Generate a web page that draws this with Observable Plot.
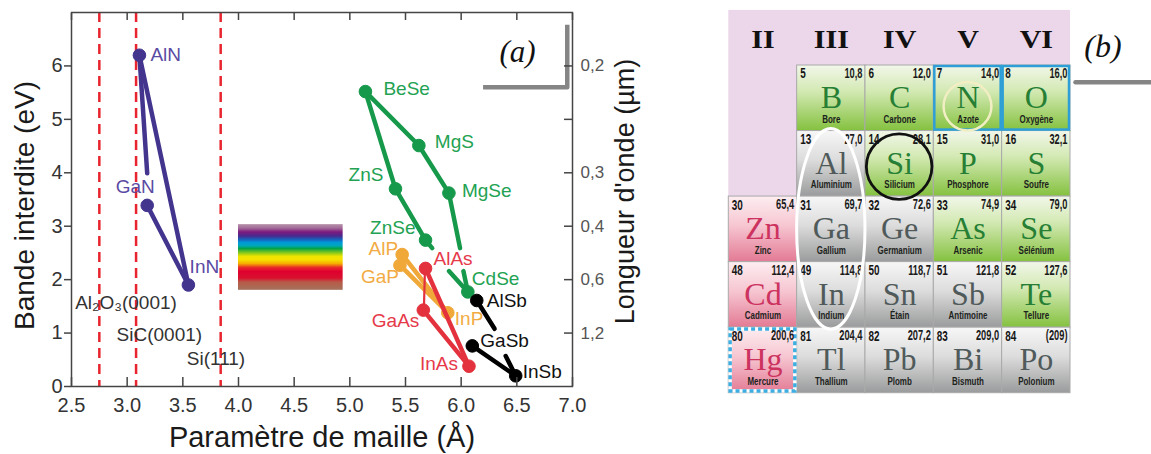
<!DOCTYPE html>
<html>
<head>
<meta charset="utf-8">
<script src="https://cdn.jsdelivr.net/npm/d3@7"></script>
<script src="https://cdn.jsdelivr.net/npm/@observablehq/plot@0.6"></script>
<style>
html,body{margin:0;padding:0;background:#fff;}
#wrap{position:relative;width:1151px;height:454px;overflow:hidden;background:#fff;}
#a{position:absolute;left:0;top:0;}
#b{position:absolute;left:720px;top:0;}
svg{overflow:visible;}
</style>
</head>
<body>
<div id="wrap"><div id="a"></div><div id="b"></div></div>
<script>
const ns = "http://www.w3.org/2000/svg";

// ================= DATA: panel (a) =================
const xTicks = [2.5, 3.0, 3.5, 4.0, 4.5, 5.0, 5.5, 6.0, 6.5, 7.0];
const yTicks = [0, 1, 2, 3, 4, 5, 6];
const wavelengthTickAt = [6, 5, 4, 3, 2, 1];
const wavelengthTickText = ["0,2", "", "0,3", "0,4", "0,6", "1,2"];

const nitrides = [
  {name: "AlN", a: 3.11, eg: 6.20},
  {name: "GaN", a: 3.18, eg: 3.39},
  {name: "InN", a: 3.55, eg: 1.90}
];
const chalcogenides = [
  {name: "BeSe", a: 5.14, eg: 5.52},
  {name: "MgS", a: 5.62, eg: 4.51},
  {name: "MgSe", a: 5.89, eg: 3.62},
  {name: "ZnS", a: 5.41, eg: 3.70},
  {name: "ZnSe", a: 5.68, eg: 2.74},
  {name: "CdSe", a: 6.06, eg: 1.77}
];
const phosphides = [
  {name: "AlP", a: 5.47, eg: 2.47},
  {name: "GaP", a: 5.45, eg: 2.27},
  {name: "InP", a: 5.88, eg: 1.38}
];
const arsenides = [
  {name: "AlAs", a: 5.68, eg: 2.21},
  {name: "GaAs", a: 5.66, eg: 1.43},
  {name: "InAs", a: 6.07, eg: 0.38}
];
const antimonides = [
  {name: "AlSb", a: 6.14, eg: 1.61},
  {name: "GaSb", a: 6.10, eg: 0.76},
  {name: "InSb", a: 6.49, eg: 0.20}
];

const nitrideCurves = [
  {id: "AlN-GaN", a: 3.11, eg: 6.20}, {id: "AlN-GaN", a: 3.18, eg: 3.99},
  {id: "GaN-InN", a: 3.18, eg: 3.39}, {id: "GaN-InN", a: 3.55, eg: 1.90},
  {id: "AlN-InN", a: 3.11, eg: 6.20}, {id: "AlN-InN", a: 3.55, eg: 1.90}
];
const chalcogenideCurves = [
  {id: "BeSe-MgSe", a: 5.14, eg: 5.52}, {id: "BeSe-MgSe", a: 5.62, eg: 4.51},
  {id: "BeSe-MgSe", a: 5.89, eg: 3.62}, {id: "BeSe-MgSe", a: 5.99, eg: 2.59},
  {id: "MgSe-CdSe", a: 5.89, eg: 2.16}, {id: "MgSe-CdSe", a: 6.06, eg: 1.77},
  {id: "ZnSe-CdSe", a: 6.02, eg: 2.16}, {id: "ZnSe-CdSe", a: 6.06, eg: 1.77},
  {id: "BeSe-ZnSe", a: 5.14, eg: 5.52}, {id: "BeSe-ZnSe", a: 5.41, eg: 3.70},
  {id: "BeSe-ZnSe", a: 5.68, eg: 2.74}, {id: "BeSe-ZnSe", a: 5.74, eg: 2.59}
];
const phosphideCurves = [
  {id: "AlP-InP", a: 5.47, eg: 2.47}, {id: "AlP-InP", a: 5.88, eg: 1.38},
  {id: "GaP-InP", a: 5.45, eg: 2.27}, {id: "GaP-InP", a: 5.88, eg: 1.38}
];
const arsenideCurves = [
  {id: "AlAs-InAs", a: 5.68, eg: 2.21}, {id: "AlAs-InAs", a: 6.07, eg: 0.38},
  {id: "GaAs-InAs", a: 5.66, eg: 1.43}, {id: "GaAs-InAs", a: 6.07, eg: 0.38}
];
const arsenideThin = [
  {id: "AlAs-GaAs", a: 5.675, eg: 2.21}, {id: "AlAs-GaAs", a: 5.665, eg: 1.43}
];
const antimonideCurves = [
  {id: "AlSb-GaSb", a: 6.14, eg: 1.61}, {id: "AlSb-GaSb", a: 6.30, eg: 1.08},
  {id: "GaSb-InSb", a: 6.10, eg: 0.76}, {id: "GaSb-InSb", a: 6.49, eg: 0.20},
  {id: "AlSb-InSb", a: 6.40, eg: 0.57}, {id: "AlSb-InSb", a: 6.49, eg: 0.20}
];

const substrates = [
  {name: "Al\u2082O\u2083(0001)", a: 2.75, labelEg: 1.57},
  {name: "SiC(0001)", a: 3.08, labelEg: 0.96},
  {name: "Si(111)", a: 3.84, labelEg: 0.51}
];
const spectrumBox = [{a1: 4.0, a2: 4.94, eg1: 1.80, eg2: 3.03}];
const bracketA = [{a: 6.217, eg: 5.60}, {a: 6.953, eg: 5.60}, {a: 6.953, eg: 6.73}];
const panelLabelA = [{text: "(a)", a: 6.507, eg: 6.26}];
const titlesA = {x: "Paramètre de maille (Å)", y: "Bande interdite (eV)", y2: "Longueur d'onde (µm)"};

// ================= DATA: panel (b) =================
const groups = ["II", "III", "IV", "V", "VI"];
const elements = [
  {num: 5,  sym: "B",  mass: "10,8",  name: "Bore",      group: "III", period: 2, kind: "nonmetal"},
  {num: 6,  sym: "C",  mass: "12,0",  name: "Carbone",   group: "IV",  period: 2, kind: "nonmetal"},
  {num: 7,  sym: "N",  mass: "14,0",  name: "Azote",     group: "V",   period: 2, kind: "nonmetal"},
  {num: 8,  sym: "O",  mass: "16,0",  name: "Oxygène",   group: "VI",  period: 2, kind: "nonmetal"},
  {num: 13, sym: "Al", mass: "27,0",  name: "Aluminium", group: "III", period: 3, kind: "metal"},
  {num: 14, sym: "Si", mass: "28,1",  name: "Silicium",  group: "IV",  period: 3, kind: "nonmetal"},
  {num: 15, sym: "P",  mass: "31,0",  name: "Phosphore", group: "V",   period: 3, kind: "nonmetal"},
  {num: 16, sym: "S",  mass: "32,1",  name: "Soufre",    group: "VI",  period: 3, kind: "nonmetal"},
  {num: 30, sym: "Zn", mass: "65,4",  name: "Zinc",      group: "II",  period: 4, kind: "transition"},
  {num: 31, sym: "Ga", mass: "69,7",  name: "Gallium",   group: "III", period: 4, kind: "metal"},
  {num: 32, sym: "Ge", mass: "72,6",  name: "Germanium", group: "IV",  period: 4, kind: "metal"},
  {num: 33, sym: "As", mass: "74,9",  name: "Arsenic",   group: "V",   period: 4, kind: "nonmetal"},
  {num: 34, sym: "Se", mass: "79,0",  name: "Sélénium",  group: "VI",  period: 4, kind: "nonmetal"},
  {num: 48, sym: "Cd", mass: "112,4", name: "Cadmium",   group: "II",  period: 5, kind: "transition"},
  {num: 49, sym: "In", mass: "114,8", name: "Indium",    group: "III", period: 5, kind: "metal"},
  {num: 50, sym: "Sn", mass: "118,7", name: "Étain",     group: "IV",  period: 5, kind: "metal"},
  {num: 51, sym: "Sb", mass: "121,8", name: "Antimoine", group: "V",   period: 5, kind: "metal"},
  {num: 52, sym: "Te", mass: "127,6", name: "Tellure",   group: "VI",  period: 5, kind: "nonmetal"},
  {num: 80, sym: "Hg", mass: "200,6", name: "Mercure",   group: "II",  period: 6, kind: "transition"},
  {num: 81, sym: "Tl", mass: "204,4", name: "Thallium",  group: "III", period: 6, kind: "metal"},
  {num: 82, sym: "Pb", mass: "207,2", name: "Plomb",     group: "IV",  period: 6, kind: "metal"},
  {num: 83, sym: "Bi", mass: "209,0", name: "Bismuth",   group: "V",   period: 6, kind: "metal"},
  {num: 84, sym: "Po", mass: "(209)", name: "Polonium",  group: "VI",  period: 6, kind: "metal"}
];
const framedBlue = ["N", "O"];
const framedDashed = ["Hg"];
const highlights = [
  {from: "Al", to: "In", stroke: "#ffffff", kx: 1.0, ky: 1.02, dy: 0, width: 3},
  {from: "Si", to: "Si", stroke: "#111111", kx: 0.96, ky: 1.0, dy: 0.05, width: 2.8},
  {from: "N", to: "N", stroke: "#f2eec4", kx: 0.70, ky: 0.74, dy: 0.13, width: 2.5}
];
const backdropB = [{c1: 0, c2: 5, r1: -0.84, r2: 2}];
const panelLabelB = [{text: "(b)", c: 5.476, r: -0.279}];
const ruleB = [{c: 5.073, r: 0.255}, {c: 6.19, r: 0.255}];

// ================= STYLE =================
const sans = "'Liberation Sans', Arial, Helvetica, sans-serif";
const serif = "'Liberation Serif', 'Times New Roman', serif";

const families = [
  {pts: nitrides, curves: nitrideCurves, line: "#43348e", label: "#5a4aa3"},
  {pts: chalcogenides, curves: chalcogenideCurves, line: "#16994a", label: "#22a252"},
  {pts: phosphides, curves: phosphideCurves, line: "#f0a838", label: "#f2ab44"},
  {pts: arsenides, curves: arsenideCurves, line: "#e3323d", label: "#e6394a"},
  {pts: antimonides, curves: antimonideCurves, line: "#000000", label: "#111111"}
];
const placement = {
  AlN: {dx: 11, dy: 0, anchor: "start"},
  GaN: {dx: -12, dy: -18, anchor: "middle"},
  InN: {dx: 16, dy: -18, anchor: "middle"},
  BeSe: {dx: 18, dy: -3, anchor: "start"},
  MgS: {dx: 16, dy: -4, anchor: "start"},
  MgSe: {dx: 13, dy: -2, anchor: "start"},
  ZnS: {dx: -12, dy: -14, anchor: "end"},
  ZnSe: {dx: -10, dy: -12, anchor: "end"},
  CdSe: {dx: 4, dy: -13, anchor: "start"},
  AlP: {dx: -4, dy: -6, anchor: "end"},
  GaP: {dx: -1, dy: 12, anchor: "end"},
  InP: {dx: 7, dy: 6, anchor: "start"},
  AlAs: {dx: 8, dy: -10, anchor: "start"},
  GaAs: {dx: -4, dy: 11, anchor: "end"},
  InAs: {dx: -11, dy: -2, anchor: "end"},
  AlSb: {dx: 10, dy: 0, anchor: "start"},
  GaSb: {dx: 8, dy: -5, anchor: "start"},
  InSb: {dx: 7, dy: -4, anchor: "start"}
};
const substrateDx = [26.7, 23.3, -4.7];

const defsMark = (html) => () => {
  const d = document.createElementNS(ns, "defs");
  d.innerHTML = html;
  return d;
};

const rainbowDefs = `
<linearGradient id="rainbow" x1="0" y1="0" x2="0" y2="1">
  <stop offset="0" stop-color="#b893ab"/>
  <stop offset="0.06" stop-color="#a26b98"/>
  <stop offset="0.12" stop-color="#7d1a7e"/>
  <stop offset="0.18" stop-color="#4a2a8e"/>
  <stop offset="0.23" stop-color="#1b5db8"/>
  <stop offset="0.28" stop-color="#009ad8"/>
  <stop offset="0.33" stop-color="#00a7b8"/>
  <stop offset="0.37" stop-color="#00a34a"/>
  <stop offset="0.43" stop-color="#7cc520"/>
  <stop offset="0.49" stop-color="#eee400"/>
  <stop offset="0.54" stop-color="#f6e200"/>
  <stop offset="0.60" stop-color="#f6ae00"/>
  <stop offset="0.66" stop-color="#e82a28"/>
  <stop offset="0.72" stop-color="#e00030"/>
  <stop offset="0.82" stop-color="#d8102e"/>
  <stop offset="0.88" stop-color="#b85a48"/>
  <stop offset="1" stop-color="#a4725c"/>
</linearGradient>`;

// ================= PANEL (a) =================
const wlMap = new Map(wavelengthTickAt.map((d, i) => [d, wavelengthTickText[i]]));

const marksA = [
  defsMark(rainbowDefs),
  Plot.rect(spectrumBox, {x1: "a1", x2: "a2", y1: "eg1", y2: "eg2", fill: () => "url(#rainbow)"}),
  Plot.ruleX(substrates, {x: "a", stroke: "#e8252e", strokeWidth: 2.5, strokeDasharray: "10,6"})
];
substrates.forEach((s, i) => {
  marksA.push(Plot.text([s], {x: "a", y: "labelEg", text: "name", dx: substrateDx[i], textAnchor: "middle",
    fontSize: 19, fill: "#333", fontFamily: sans}));
});
families.forEach(f => {
  marksA.push(Plot.line(f.curves, {x: "a", y: "eg", z: "id", stroke: f.line, strokeWidth: 4.5, strokeLinejoin: "round"}));
  if (f.pts === arsenides) {
    marksA.push(Plot.line(arsenideThin, {x: "a", y: "eg", z: "id", stroke: f.line, strokeWidth: 2.2}));
  }
  marksA.push(Plot.dot(f.pts, {x: "a", y: "eg", r: 6.3, fill: f.line, stroke: f.line, strokeWidth: 1}));
  f.pts.forEach(p => {
    const pl = placement[p.name];
    marksA.push(Plot.text([p], {x: "a", y: "eg", text: "name", dx: pl.dx, dy: pl.dy, textAnchor: pl.anchor,
      fontSize: 19, fill: f.label, fontFamily: sans}));
  });
});
marksA.push(
  Plot.line(bracketA, {x: "a", y: "eg", stroke: "#858585", strokeWidth: 4.5, strokeLinecap: "square"}),
  Plot.text(panelLabelA, {x: "a", y: "eg", text: "text", fontSize: 31, fontStyle: "italic", fontFamily: serif, fill: "#111"}),
  Plot.frame({stroke: "#454545", strokeWidth: 1.5}),
  Plot.axisX({ticks: xTicks, anchor: "bottom", tickSize: -9, tickPadding: 20, tickFormat: d3.format(".1f"),
    fontSize: 20, fill: "#333", stroke: "#454545", strokeWidth: 1.5, label: null}),
  Plot.axisX({ticks: xTicks, anchor: "top", tickSize: -7, tickFormat: () => "", stroke: "#454545", strokeWidth: 1.5, label: null}),
  Plot.axisY({ticks: yTicks, anchor: "left", tickSize: 7, tickPadding: 2, tickFormat: d3.format("d"),
    fontSize: 20, fill: "#333", stroke: "#454545", strokeWidth: 1.5, label: null}),
  Plot.axisY({ticks: wavelengthTickAt, anchor: "right", tickSize: -9, tickPadding: 17, tickFormat: d => wlMap.get(d),
    fontSize: 17, fill: "#555", stroke: "#454545", strokeWidth: 1.5, label: null}),
  Plot.text([titlesA.x], {frameAnchor: "bottom", dy: 51, text: d => d, textAnchor: "middle", lineAnchor: "middle",
    fontSize: 29, fill: "#1a1a1a", fontFamily: sans}),
  Plot.text([titlesA.y], {frameAnchor: "left", rotate: -90, dx: -46, dy: 6, text: d => d, textAnchor: "middle", lineAnchor: "middle",
    fontSize: 28, fill: "#1a1a1a", fontFamily: sans}),
  Plot.text([titlesA.y2], {frameAnchor: "right", rotate: -90, dx: 53, dy: -8, text: d => d, textAnchor: "middle", lineAnchor: "middle",
    fontSize: 27, fill: "#1a1a1a", fontFamily: sans})
);

const plotA = Plot.plot({
  width: 660, height: 454,
  marginLeft: 71, marginRight: 88, marginTop: 12, marginBottom: 68,
  x: {domain: [2.5, 7]},
  y: {domain: [0, 7]},
  color: {type: "identity"},
  style: {fontFamily: sans, background: "transparent", overflow: "visible"},
  marks: marksA
});
document.getElementById("a").append(plotA);

// ================= PANEL (b) =================
const col = d => groups.indexOf(d.group);
const row = d => d.period - 2;
const tileFill = {nonmetal: "url(#tGreen)", metal: "url(#tGrey)", transition: "url(#tPink)"};
const symFill = {nonmetal: "#267f34", metal: "#505a5a", transition: "#cc335f"};
const headerRow = -0.39;

const tileDefs = `
<linearGradient id="tGreen" x1="0" y1="0" x2="0" y2="1">
  <stop offset="0" stop-color="#f2f7ea"/>
  <stop offset="0.4" stop-color="#d3e9b3"/>
  <stop offset="1" stop-color="#84c13f"/>
</linearGradient>
<linearGradient id="tGrey" x1="0" y1="0" x2="0" y2="1">
  <stop offset="0" stop-color="#f7f7f7"/>
  <stop offset="0.45" stop-color="#dcdcdc"/>
  <stop offset="1" stop-color="#9a9b9c"/>
</linearGradient>
<linearGradient id="tPink" x1="0" y1="0" x2="0" y2="1">
  <stop offset="0" stop-color="#fdeef1"/>
  <stop offset="0.45" stop-color="#f6c6d1"/>
  <stop offset="1" stop-color="#e37a94"/>
</linearGradient>`;

const ellipseMark = (index, scales) => {
  const {x, y} = scales;
  const g = document.createElementNS(ns, "g");
  for (const h of highlights) {
    const a = elements.find(e => e.sym === h.from), b = elements.find(e => e.sym === h.to);
    const c0 = col(a), r0 = row(a), c1 = col(b) + 1, r1 = row(b) + 1;
    const cx = x((c0 + c1) / 2), cy = y((r0 + r1) / 2 + h.dy);
    const rx = Math.abs(x(c1) - x(c0)) / 2 * h.kx, ry = Math.abs(y(r1) - y(r0)) / 2 * h.ky;
    const el = document.createElementNS(ns, "ellipse");
    el.setAttribute("cx", cx); el.setAttribute("cy", cy);
    el.setAttribute("rx", rx); el.setAttribute("ry", ry);
    el.setAttribute("fill", "none"); el.setAttribute("stroke", h.stroke);
    el.setAttribute("stroke-width", h.width);
    g.append(el);
  }
  return g;
};

const tileBox = {x1: d => col(d), x2: d => col(d) + 1, y1: d => row(d), y2: d => row(d) + 1};
const marksB = [
  defsMark(tileDefs),
  Plot.rect(backdropB, {x1: "c1", x2: "c2", y1: "r1", y2: "r2", fill: "#ebd6ea"}),
  Plot.rect(elements, {...tileBox, fill: d => tileFill[d.kind], stroke: "#a9a9a9", strokeWidth: 1}),
  Plot.rect(elements.filter(d => framedBlue.includes(d.sym)), {...tileBox, fill: "none", stroke: "#2e9fd6", strokeWidth: 2.5, inset: 1}),
  Plot.rect(elements.filter(d => framedDashed.includes(d.sym)), {...tileBox, fill: "none", stroke: "#ffffff", strokeWidth: 3.5, inset: 1.8}),
  Plot.rect(elements.filter(d => framedDashed.includes(d.sym)), {...tileBox, fill: "none", stroke: "#3eaee0", strokeWidth: 3.5, strokeDasharray: "4,3", inset: 1.8}),
  // text marks (order matters for the post-render horizontal scaling below)
  Plot.text(groups, {x: (d, i) => i + 0.5, y: () => headerRow, text: d => d, fontFamily: serif, fontWeight: "bold",
    fontSize: 25, fill: "#111"}),
  Plot.text(elements, {x: d => col(d), y: d => row(d), dx: 3, dy: 8, text: d => String(d.num), textAnchor: "start",
    fontSize: 15.5, fontWeight: "bold", fontFamily: sans, fill: "#151515"}),
  Plot.text(elements, {x: d => col(d) + 1, y: d => row(d), dx: -3, dy: 8, text: "mass", textAnchor: "end",
    fontSize: 14.5, fontWeight: "bold", fontFamily: sans, fill: "#1a1a1a"}),
  Plot.text(elements, {x: d => col(d) + 0.5, y: d => row(d), dy: 32.5, text: "sym",
    fontSize: 32, fontFamily: serif, fill: d => symFill[d.kind]}),
  Plot.text(elements, {x: d => col(d) + 0.5, y: d => row(d), dy: 54, text: "name",
    fontSize: 10.5, fontWeight: "bold", fontFamily: sans, fill: "#1c231c"}),
  ellipseMark,
  Plot.text(panelLabelB, {x: "c", y: "r", text: "text", fontSize: 32, fontStyle: "italic", fontFamily: serif, fill: "#111"}),
  Plot.line(ruleB, {x: "c", y: "r", stroke: "#858585", strokeWidth: 4.5})
];

const plotB = Plot.plot({
  width: 431, height: 454, margin: 0,
  x: {domain: [0, 5], range: [8.3, 350], axis: null},
  y: {domain: [0, 5], range: [65, 392.7], axis: null},
  color: {type: "identity"},
  style: {fontFamily: sans, background: "transparent", overflow: "visible"},
  marks: marksB
});
document.getElementById("b").append(plotB);

// horizontal scaling of the condensed / stretched table fonts
function scaleGroup(g, k) {
  if (!g) return;
  g.querySelectorAll("text").forEach(t => {
    const tr = t.getAttribute("transform");
    if (tr) {
      t.setAttribute("transform", tr + ` scale(${k},1)`);
    } else {
      const x = +t.getAttribute("x") || 0, y = +t.getAttribute("y") || 0;
      t.removeAttribute("x"); t.removeAttribute("y");
      t.setAttribute("transform", `translate(${x},${y}) scale(${k},1)`);
    }
  });
}
const textGroups = plotB.querySelectorAll('g[aria-label="text"]');
scaleGroup(textGroups[0], 1.2);   // group headers
scaleGroup(textGroups[1], 0.64);  // atomic numbers
scaleGroup(textGroups[2], 0.64);  // atomic masses
scaleGroup(textGroups[4], 0.76);  // names
</script>
</body>
</html>
